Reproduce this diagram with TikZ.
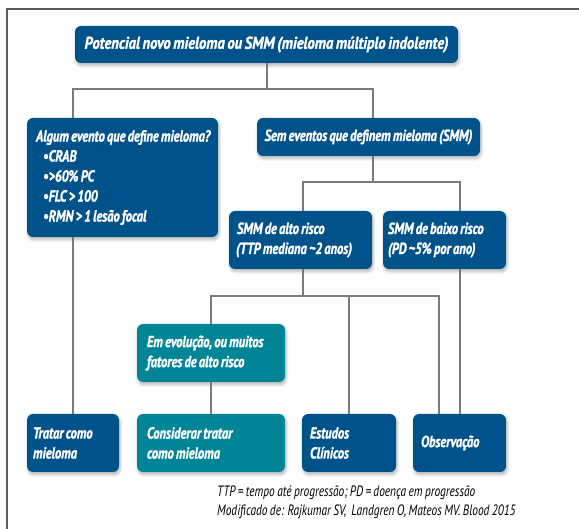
\documentclass[tikz,border=0pt]{standalone}
\usepackage{fontspec}
\setmainfont{PT Sans}
\newfontfamily\boxfont{PT Sans Bold Italic}[FakeStretch=0.78, WordSpace=0.7, FakeBold=1.5]
\newfontfamily\topfont{PT Sans Bold Italic}[FakeStretch=0.86, WordSpace=0.7, FakeBold=1.5]
\newfontfamily\notefont{PT Sans Italic}[FakeStretch=0.76, WordSpace=0.8]
\usetikzlibrary{shadows.blur}
\definecolor{dblue}{HTML}{00538A}
\definecolor{teal}{HTML}{008597}
\definecolor{conn}{HTML}{7A7A7A}
\definecolor{frame}{HTML}{5A5A5A}
\tikzset{
  box/.style={rounded corners=6pt, text=white, font=\boxfont\fontsize{16}{20}\selectfont,
    inner ysep=0pt, anchor=center, align=flush left,
    blur shadow={shadow xshift=1pt, shadow yshift=-2.5pt, shadow opacity=30, shadow blur steps=6, shadow blur radius=3pt}},
  bluebox/.style={box, fill=dblue},
  tealbox/.style={box, fill=teal},
  cline/.style={draw=conn, line width=1.1pt},
}
\begin{document}
\begin{tikzpicture}[x=1pt,y=-1pt]
\useasboundingbox (0,0) rectangle (579,529);
\draw[frame, line width=1.3pt] (579,9) -- (7,9) -- (7,529);
% boxes
\node[bluebox, minimum width=383pt, minimum height=37pt, align=center, font=\topfont\fontsize{17}{20}\selectfont] (top) at (266.5,44.5)
  {Potencial novo mieloma ou SMM (mieloma múltiplo indolente)};
\node[bluebox, minimum width=191pt, minimum height=119pt, text width=177pt, inner xsep=7pt] (algum) at (122.5,177.5)
  {\hspace*{2pt}Algum evento que define mieloma?\\
   \hspace*{9pt}•CRAB\\
   \hspace*{9pt}•>60\% PC\\
   \hspace*{9pt}•FLC > 100\\
   \hspace*{9pt}•RMN > 1 lesão focal};
\node[bluebox, minimum width=223pt, minimum height=38pt, align=center] (sem) at (368.5,137)
  {Sem eventos que definem mieloma (SMM)};
\node[bluebox, minimum width=143pt, minimum height=58pt, text width=129pt, inner xsep=7pt] (alto) at (300.5,240)
  {\hspace*{1pt}SMM de alto risco\\(TTP mediana \textasciitilde2 anos)};
\node[bluebox, minimum width=123pt, minimum height=58pt, text width=113pt, inner xsep=5pt] (baixo) at (444.5,240)
  {SMM de baixo risco\\(PD \textasciitilde5\% por ano)};
\node[tealbox, minimum width=148pt, minimum height=58pt, text width=128pt, inner xsep=10pt] (evol) at (211,353)
  {Em evolução, ou muitos\\fatores de alto risco};
\node[bluebox, minimum width=92pt, minimum height=58pt, text width=80pt, inner xsep=6pt] (tratar) at (73,443)
  {Tratar como\\mieloma};
\node[tealbox, minimum width=148pt, minimum height=58pt, text width=128pt, inner xsep=10pt] (consid) at (211,443)
  {Considerar tratar\\como mieloma};
\node[bluebox, minimum width=94pt, minimum height=58pt, text width=78pt, inner xsep=8pt] (estudos) at (349,443)
  {Estudos\\Clínicos};
\node[bluebox, minimum width=93pt, minimum height=58pt, text width=77pt, inner xsep=8pt] (obs) at (459.5,443)
  {Observação};
% connectors
\coordinate (b1) at (267,89);
\coordinate (b2) at (373,182);
\coordinate (b3) at (303,296);
\draw[cline] (top.south -| b1) -- (b1);
\draw[cline] (algum.north -| tratar.north) |- (b1) -| (sem.north -| b2);
\draw[cline] (sem.south -| b2) -- (b2);
\draw[cline] (alto.north -| b3) |- (b2) -| (baixo.north -| 460,0);
\draw[cline] (alto.south -| b3) -- (b3);
\draw[cline] (evol.north) |- (b3) -| (obs.north -| 439,0);
\draw[cline] (b3 -| estudos.north) -- (estudos.north);
\draw[cline] (baixo.south -| 460,0) -- (obs.north -| 460,0);
\draw[cline] (algum.south -| tratar.north) -- (tratar.north);
\draw[cline] (evol.south) -- (consid.north);
% footnote
\node[anchor=west, font=\notefont\fontsize{15}{19}\selectfont, inner sep=0pt, align=flush left] (note) at (217,502.5)
  {TTP = tempo até progressão; PD = doença em progressão\\Modificado de: Rajkumar SV,\ \ Landgren O, Mateos MV. Blood 2015};
\end{tikzpicture}
\end{document}
